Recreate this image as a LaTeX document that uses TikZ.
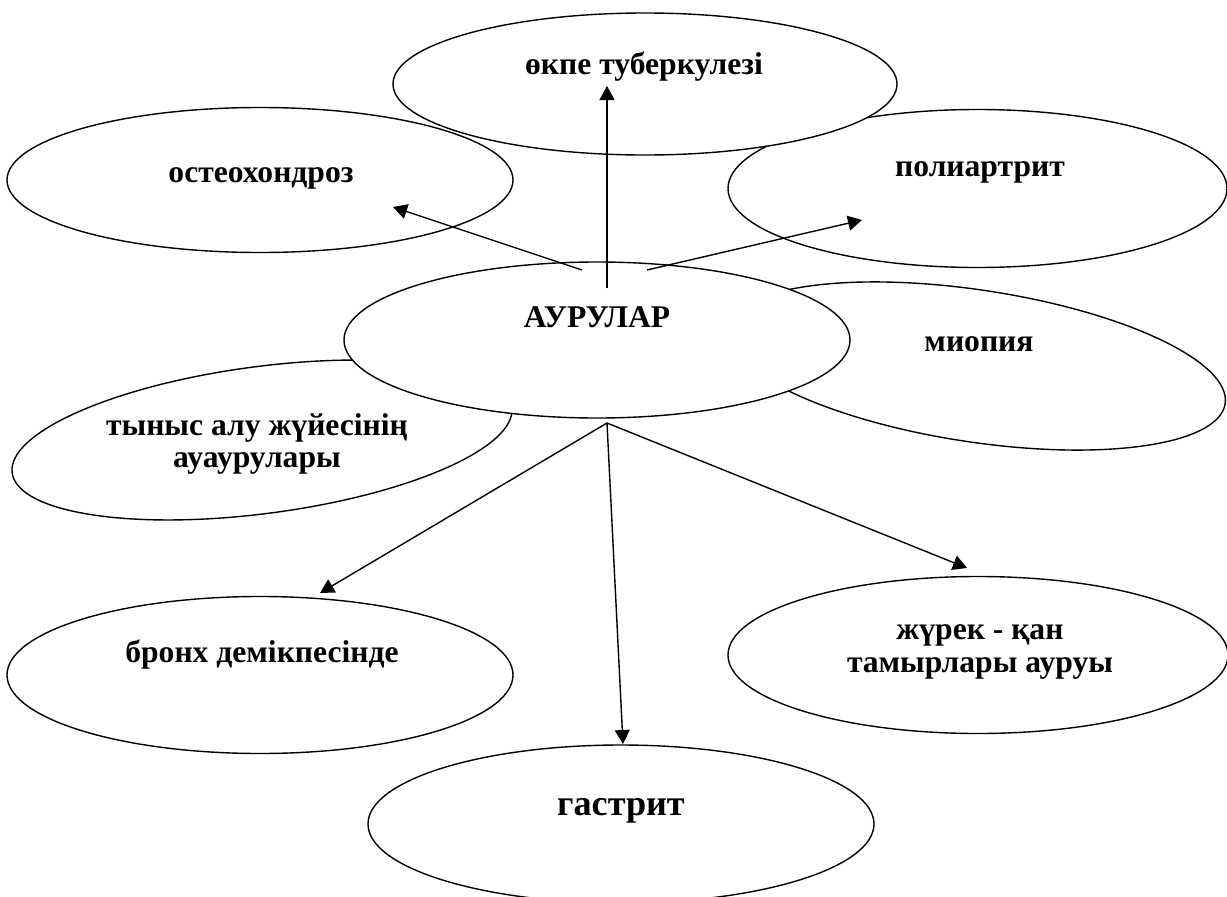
\documentclass[tikz,border=0pt]{standalone}
\usepackage{fontspec}
\setmainfont{Liberation Serif}
\usetikzlibrary{shapes.geometric,arrows.meta}
\tikzset{
  ell/.style={draw=black, fill=white, ellipse, line width=1.4pt, inner sep=0pt, outer sep=0pt},
  lbl/.style={font=\fontsize{31.6}{32.5}\selectfont\bfseries, inner sep=0pt, anchor=base},
  lblm/.style={font=\fontsize{31.6}{32.5}\selectfont\bfseries, inner sep=0pt, align=center, anchor=center},
  lblbig/.style={font=\fontsize{36.2}{40}\selectfont\bfseries, inner sep=0pt, anchor=base},
  arr/.style={line width=1.4pt, -{Triangle[length=14pt,width=15pt]}}
}
\begin{document}
\begin{tikzpicture}[x=1pt,y=-1pt]
\useasboundingbox (0,0) rectangle (1227,897);
% ellipses (drawing order matters)
\node[ell, minimum width=499pt, minimum height=158pt] (poly) at (977.5,188.5) {};
\node[ell, minimum width=504pt, minimum height=142pt] (okpe) at (645,84) {};
\node[ell, minimum width=506pt, minimum height=145pt] (osteo) at (260,180) {};
\node[ell, minimum width=504pt, minimum height=152pt, rotate=-8.6] (miop) at (976,366) {};
\node[ell, minimum width=504pt, minimum height=147pt, rotate=7.5] (tynys) at (262,440) {};
\node[ell, minimum width=506pt, minimum height=156pt] (aur) at (597,340) {};
\node[ell, minimum width=506pt, minimum height=157pt] (bronh) at (260,675) {};
\node[ell, minimum width=506pt, minimum height=158pt] (gast) at (621,824) {};
\node[ell, minimum width=500pt, minimum height=157pt] (zhur) at (978,655) {};
% texts
\node[lbl] (okpet) at (644,74) {өкпе туберкулезі};
\node[lbl] (osteot) at (261,182) {остеохондроз};
\node[lbl] (polyt) at (980,176) {полиартрит};
\node[lbl] (aurt) at (597,327) {АУРУЛАР};
\node[lbl] (miopt) at (979,351) {миопия};
\node[lblm] (tynyst) at (257,444) {тыныс алу жүйесінің\\ ауаурулары};
\node[lbl] (bronht) at (262,662) {бронх демікпесінде};
\node[lblm] (zhurt) at (980,652) {жүрек - қан\\ тамырлары ауруы};
\node[lblbig] (gastt) at (621,815) {гастрит};
% connectors
\coordinate (sOst) at (582,270);
\coordinate (tOst) at (393,207);
\coordinate (sOkp) at (607,288);
\coordinate (tOkp) at (607,86);
\coordinate (sPol) at (647,270);
\coordinate (tPol) at (862,220);
\coordinate (sBot) at (607,423);
\coordinate (tBro) at (320,593);
\coordinate (tGas) at (623,744);
\coordinate (tZhu) at (967,568);
\draw[arr] (sOst) -- (tOst);
\draw[arr] (sOkp) -- (tOkp);
\draw[arr] (sPol) -- (tPol);
\draw[arr] (sBot) -- (tBro);
\draw[arr] (sBot) -- (tGas);
\draw[arr] (sBot) -- (tZhu);
\end{tikzpicture}
\end{document}
